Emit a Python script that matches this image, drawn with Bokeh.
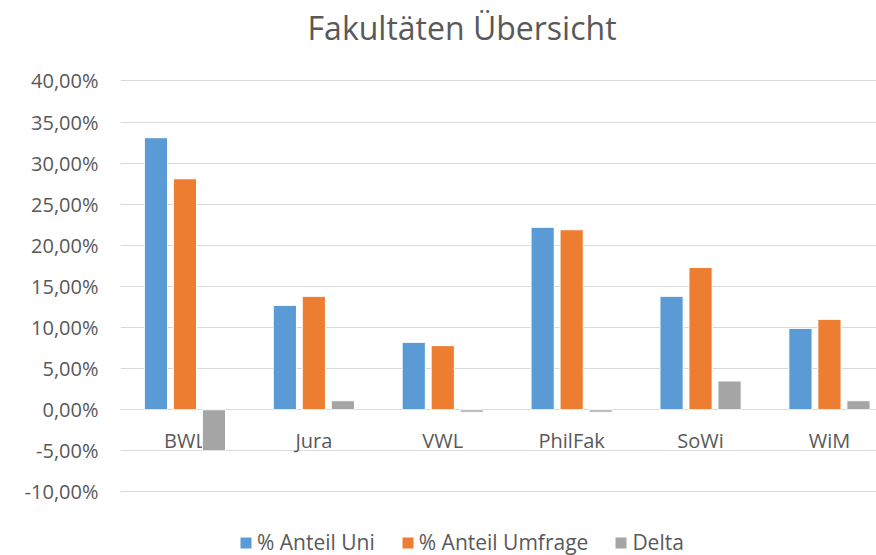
from bokeh.plotting import figure
from bokeh.models import Range1d, FixedTicker, Legend, LegendItem, ColumnDataSource, Label
from bokeh.core.properties import value
from bokeh.embed import file_html
from bokeh.resources import INLINE

# ---- data ----
categories = ["BWL", "Jura", "VWL", "PhilFak", "SoWi", "WiM"]
anteil_uni = [33.1, 12.7, 8.2, 22.2, 13.8, 9.9]
anteil_umfrage = [28.1, 13.8, 7.8, 21.9, 17.3, 11.0]
delta = [-5.0, 1.1, -0.3, -0.3, 3.5, 1.1]
series_names = ["% Anteil Uni", "% Anteil Umfrage", "Delta"]
y_ticks = [-10, -5, 0, 5, 10, 15, 20, 25, 30, 35, 40]
y_tick_labels = ["-10,00%", "-5,00%", "0,00%", "5,00%", "10,00%", "15,00%",
                 "20,00%", "25,00%", "30,00%", "35,00%", "40,00%"]
title_text = "Fakultäten Übersicht"

# ---- styling ----
colors = ["#5B9BD5", "#ED7D31", "#A5A5A5"]
text_color = "#595959"
font = "Open Sans"
offsets = [-0.225, 0.0, 0.225]
bar_width = 0.18

centers = [i + 0.5 for i in range(len(categories))]

# frame spans the full height; the visible value axis covers -10..40,
# extra room above/below holds title and legend
p = figure(width=876, height=555, title=None,
           x_range=Range1d(0, 5.865), y_range=Range1d(-17.73, 49.79),
           output_backend="svg", toolbar_location=None,
           min_border_left=120, min_border_right=0,
           min_border_top=0, min_border_bottom=0)

p.outline_line_color = None
p.background_fill_color = "white"
p.border_fill_color = "white"

p.xaxis.visible = False
p.xgrid.visible = False

p.yaxis.ticker = FixedTicker(ticks=y_ticks)
p.yaxis.major_label_overrides = {float(t): s for t, s in zip(y_ticks, y_tick_labels)}
p.yaxis.axis_line_color = None
p.yaxis.major_tick_line_color = None
p.yaxis.minor_tick_line_color = None
p.yaxis.major_tick_in = 0
p.yaxis.major_tick_out = 0
p.yaxis.major_label_standoff = 22
p.yaxis.major_label_text_font = font
p.yaxis.major_label_text_font_size = "20px"
p.yaxis.major_label_text_color = text_color

p.ygrid.ticker = FixedTicker(ticks=y_ticks)
p.ygrid.grid_line_color = "#D9D9D9"
p.ygrid.grid_line_width = 1

# category labels (drawn first so bars overlap them, as in the original)
lab_src = ColumnDataSource(dict(x=centers, y=[0] * len(categories), text=categories))
p.text(x="x", y="y", text="text", source=lab_src, text_align="center",
       text_baseline="middle", y_offset=31,
       text_font=value(font), text_font_size="20px", text_color=text_color)

renderers = []
for vals, off, col in zip([anteil_uni, anteil_umfrage, delta], offsets, colors):
    src = ColumnDataSource(dict(x=[c + off for c in centers], top=vals))
    r = p.vbar(x="x", top="top", bottom=0, width=bar_width, source=src,
               fill_color=col, line_color="white", line_width=1)
    renderers.append(r)

title = Label(x=2.65, y=46.5, text=title_text, text_align="center",
              text_baseline="middle", text_font=font, text_font_size="32px",
              text_color=text_color)
p.add_layout(title)

legend = Legend(items=[LegendItem(label=n, renderers=[r]) for n, r in zip(series_names, renderers)],
                orientation="horizontal", location=(118, -1),
                border_line_color=None, background_fill_alpha=0,
                label_text_font=font, label_text_font_size="21px",
                label_text_color=text_color,
                glyph_width=15, glyph_height=15, spacing=25, label_standoff=4,
                margin=0, padding=0)
p.add_layout(legend, "center")

open("out.html", "w").write(file_html(p, INLINE))
